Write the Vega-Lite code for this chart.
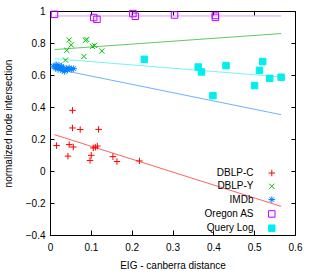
{
  "$schema": "https://vega.github.io/schema/vega-lite/v6.json",
  "width": 245,
  "height": 224,
  "autosize": "none",
  "padding": {"left": 50, "top": 11, "right": 18, "bottom": 39},
  "config": {
    "view": {"stroke": "#000", "strokeWidth": 1},
    "font": "Liberation Sans",
    "axis": {
      "grid": false,
      "domain": false,
      "tickColor": "#000",
      "tickWidth": 1,
      "labelColor": "#000",
      "labelFont": "Liberation Sans",
      "labelFontSize": 10,
      "titleFont": "Liberation Sans",
      "titleFontSize": 10,
      "titleFontWeight": "normal",
      "titleColor": "#000"
    },
    "legend": {
      "labelAlign": "right",
      "labelOffset": -23.3,
      "symbolOffset": 66.8,
      "labelFont": "Liberation Sans",
      "labelFontSize": 10,
      "labelColor": "#000",
      "rowPadding": 2.3,
      "symbolStrokeWidth": 1,
      "symbolSize": 42
    }
  },
  "resolve": {
    "scale": {"x": "shared", "y": "shared"},
    "axis": {"x": "independent", "y": "independent"}
  },
  "layer": [
    {
      "data": {
        "values": [
          {"fit": "DBLP-C", "x": 0.011, "y": 0.227},
          {"fit": "DBLP-C", "x": 0.566, "y": -0.221},
          {"fit": "DBLP-Y", "x": 0.011, "y": 0.759},
          {"fit": "DBLP-Y", "x": 0.566, "y": 0.859},
          {"fit": "IMDb", "x": 0.011, "y": 0.64},
          {"fit": "IMDb", "x": 0.566, "y": 0.352},
          {"fit": "Oregon AS", "x": 0.011, "y": 0.969},
          {"fit": "Oregon AS", "x": 0.566, "y": 0.969},
          {"fit": "Query Log", "x": 0.011, "y": 0.702},
          {"fit": "Query Log", "x": 0.566, "y": 0.588}
        ]
      },
      "mark": {"type": "line", "strokeWidth": 1, "opacity": 0.7},
      "encoding": {
        "x": {
          "field": "x", "type": "quantitative",
          "scale": {"domain": [0, 0.6], "nice": false, "zero": false},
          "axis": {"orient": "top", "labels": false, "title": null, "tickSize": -4, "values": [0, 0.1, 0.2, 0.3, 0.4, 0.5, 0.6]}
        },
        "y": {
          "field": "y", "type": "quantitative",
          "scale": {"domain": [-0.4, 1], "nice": false, "zero": false},
          "axis": {"orient": "right", "labels": false, "title": null, "tickSize": -4, "values": [-0.4, -0.2, 0, 0.2, 0.4, 0.6, 0.8, 1]}
        },
        "color": {
          "field": "fit", "type": "nominal",
          "scale": {"range": ["#ff2020", "#20b020", "#3090ff", "#d070ff", "#40eeee"]},
          "legend": null
        }
      }
    },
    {
      "data": {
        "values": [
          {"series": "DBLP-C", "x": 0.055, "y": 0.379},
          {"series": "DBLP-C", "x": 0.055, "y": 0.269},
          {"series": "DBLP-C", "x": 0.074, "y": 0.259},
          {"series": "DBLP-C", "x": 0.119, "y": 0.26},
          {"series": "DBLP-C", "x": 0.016, "y": 0.159},
          {"series": "DBLP-C", "x": 0.047, "y": 0.165},
          {"series": "DBLP-C", "x": 0.057, "y": 0.15},
          {"series": "DBLP-C", "x": 0.044, "y": 0.093},
          {"series": "DBLP-C", "x": 0.106, "y": 0.144},
          {"series": "DBLP-C", "x": 0.111, "y": 0.148},
          {"series": "DBLP-C", "x": 0.116, "y": 0.156},
          {"series": "DBLP-C", "x": 0.101, "y": 0.098},
          {"series": "DBLP-C", "x": 0.098, "y": 0.066},
          {"series": "DBLP-C", "x": 0.154, "y": 0.09},
          {"series": "DBLP-C", "x": 0.164, "y": 0.059},
          {"series": "DBLP-C", "x": 0.219, "y": 0.063},
          {"series": "DBLP-Y", "x": 0.047, "y": 0.819},
          {"series": "DBLP-Y", "x": 0.052, "y": 0.788},
          {"series": "DBLP-Y", "x": 0.041, "y": 0.754},
          {"series": "DBLP-Y", "x": 0.038, "y": 0.693},
          {"series": "DBLP-Y", "x": 0.087, "y": 0.817},
          {"series": "DBLP-Y", "x": 0.09, "y": 0.822},
          {"series": "DBLP-Y", "x": 0.083, "y": 0.716},
          {"series": "DBLP-Y", "x": 0.104, "y": 0.779},
          {"series": "DBLP-Y", "x": 0.109, "y": 0.785},
          {"series": "DBLP-Y", "x": 0.127, "y": 0.75},
          {"series": "IMDb", "x": 0.008, "y": 0.655},
          {"series": "IMDb", "x": 0.013, "y": 0.642},
          {"series": "IMDb", "x": 0.015, "y": 0.665},
          {"series": "IMDb", "x": 0.018, "y": 0.648},
          {"series": "IMDb", "x": 0.02, "y": 0.635},
          {"series": "IMDb", "x": 0.022, "y": 0.66},
          {"series": "IMDb", "x": 0.025, "y": 0.642},
          {"series": "IMDb", "x": 0.028, "y": 0.655},
          {"series": "IMDb", "x": 0.03, "y": 0.628},
          {"series": "IMDb", "x": 0.033, "y": 0.645},
          {"series": "IMDb", "x": 0.036, "y": 0.622},
          {"series": "IMDb", "x": 0.04, "y": 0.64},
          {"series": "IMDb", "x": 0.043, "y": 0.632},
          {"series": "IMDb", "x": 0.047, "y": 0.645},
          {"series": "IMDb", "x": 0.052, "y": 0.635},
          {"series": "IMDb", "x": 0.058, "y": 0.64},
          {"series": "Oregon AS", "x": 0.011, "y": 0.979},
          {"series": "Oregon AS", "x": 0.107, "y": 0.959},
          {"series": "Oregon AS", "x": 0.115, "y": 0.948},
          {"series": "Oregon AS", "x": 0.203, "y": 0.984},
          {"series": "Oregon AS", "x": 0.209, "y": 0.967},
          {"series": "Oregon AS", "x": 0.305, "y": 0.975},
          {"series": "Oregon AS", "x": 0.405, "y": 0.972},
          {"series": "Oregon AS", "x": 0.405, "y": 0.96},
          {"series": "Query Log", "x": 0.231, "y": 0.698},
          {"series": "Query Log", "x": 0.363, "y": 0.65},
          {"series": "Query Log", "x": 0.371, "y": 0.619},
          {"series": "Query Log", "x": 0.431, "y": 0.659},
          {"series": "Query Log", "x": 0.399, "y": 0.471},
          {"series": "Query Log", "x": 0.501, "y": 0.534},
          {"series": "Query Log", "x": 0.513, "y": 0.629},
          {"series": "Query Log", "x": 0.521, "y": 0.684},
          {"series": "Query Log", "x": 0.538, "y": 0.579},
          {"series": "Query Log", "x": 0.566, "y": 0.586}
        ]
      },
      "mark": {"type": "point", "strokeWidth": 1, "opacity": 1, "size": 42},
      "encoding": {
        "x": {
          "field": "x", "type": "quantitative",
          "scale": {"domain": [0, 0.6], "nice": false, "zero": false},
          "axis": {"orient": "bottom", "title": "EIG - canberra distance", "tickSize": -5, "labelPadding": 12, "titlePadding": 8, "values": [0, 0.1, 0.2, 0.3, 0.4, 0.5, 0.6], "labelFlush": false, "labelExpr": "datum.value == 0 ? '0' : format(datum.value, '.1f')"}
        },
        "y": {
          "field": "y", "type": "quantitative",
          "scale": {"domain": [-0.4, 1], "nice": false, "zero": false},
          "axis": {"orient": "left", "title": "normalized node intersection", "tickSize": -4, "labelPadding": 9, "titlePadding": 12, "values": [-0.4, -0.2, 0, 0.2, 0.4, 0.6, 0.8, 1], "labelFlush": false, "labelExpr": "datum.value == 0 ? '0' : datum.value == 1 ? '1' : format(datum.value, '.1f')"}
        },
        "shape": {
          "field": "series", "type": "nominal",
          "scale": {"domain": ["DBLP-C", "DBLP-Y", "IMDb", "Oregon AS", "Query Log"], "range": ["M-1,0H1M0,-1V1", "M-0.8,-0.8L0.8,0.8M-0.8,0.8L0.8,-0.8", "M-1,0H1M0,-1V1M-0.7,-0.7L0.7,0.7M-0.7,0.7L0.7,-0.7", "square", "square"]},
          "legend": {"title": null, "orient": "none", "legendX": 150, "legendY": 157}
        },
        "stroke": {
          "field": "series", "type": "nominal",
          "scale": {"domain": ["DBLP-C", "DBLP-Y", "IMDb", "Oregon AS", "Query Log"], "range": ["#ff0000", "#00c000", "#0080ff", "#c000ff", "#00eeee"]},
          "legend": {"title": null, "orient": "none", "legendX": 150, "legendY": 157}
        },
        "fill": {
          "field": "series", "type": "nominal",
          "scale": {"domain": ["DBLP-C", "DBLP-Y", "IMDb", "Oregon AS", "Query Log"], "range": ["transparent", "transparent", "transparent", "transparent", "#00eeee"]},
          "legend": {"title": null, "orient": "none", "legendX": 150, "legendY": 157}
        }
      }
    }
  ]
}
